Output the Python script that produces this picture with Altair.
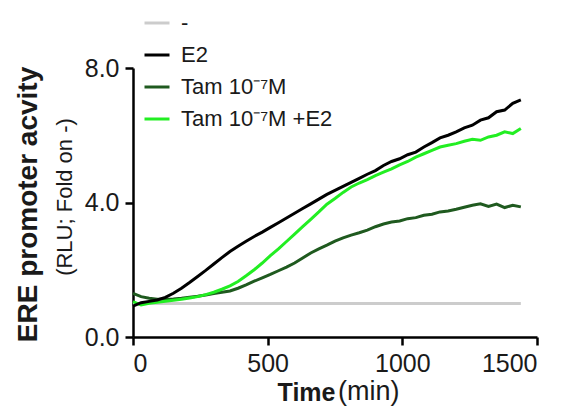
import altair as alt
import pandas as pd

# ---- data ----
time_min = list(range(0, 1441, 30))

e2 = [0.92, 1.02, 1.06, 1.10, 1.18, 1.30, 1.45, 1.62, 1.80, 1.98,
      2.17, 2.36, 2.54, 2.70, 2.85, 2.99, 3.12, 3.26, 3.40, 3.54,
      3.68, 3.82, 3.96, 4.10, 4.24, 4.36, 4.48, 4.60, 4.72, 4.84,
      4.95, 5.10, 5.22, 5.30, 5.42, 5.50, 5.65, 5.78, 5.92, 6.00,
      6.10, 6.22, 6.30, 6.45, 6.52, 6.70, 6.75, 6.95, 7.05]

tam = [1.30, 1.20, 1.15, 1.12, 1.12, 1.13, 1.15, 1.18, 1.21, 1.25,
       1.29, 1.33, 1.37, 1.45, 1.55, 1.66, 1.76, 1.86, 1.97, 2.08,
       2.20, 2.35, 2.50, 2.62, 2.73, 2.85, 2.95, 3.03, 3.10, 3.18,
       3.28, 3.36, 3.42, 3.45, 3.52, 3.55, 3.62, 3.65, 3.72, 3.75,
       3.80, 3.86, 3.92, 3.96, 3.88, 3.95, 3.85, 3.92, 3.87]

tam_e2 = [1.05, 0.95, 1.00, 1.03, 1.06, 1.09, 1.12, 1.16, 1.20, 1.26,
          1.33, 1.42, 1.52, 1.65, 1.82, 2.00, 2.20, 2.42, 2.62, 2.84,
          3.06, 3.28, 3.50, 3.72, 3.95, 4.12, 4.30, 4.46, 4.58, 4.68,
          4.80, 4.90, 5.00, 5.12, 5.22, 5.35, 5.45, 5.55, 5.65, 5.70,
          5.75, 5.82, 5.88, 5.85, 5.95, 6.00, 6.10, 6.05, 6.20]

ctrl_time = [0, 1440]
ctrl = [1.0, 1.0]

series_names = ["-", "E2", "Tam  10\u207b\u2077M", "Tam  10\u207b\u2077M  +E2"]
series_colors = ["#cccccc", "#000000", "#1f5a1f", "#22ee22"]

x_ticks = [0, 500, 1000, 1500]
y_ticks = [0, 4, 8]

rows = []
for t, v in zip(ctrl_time, ctrl):
    rows.append({"time": t, "value": v, "series": series_names[0], "k": 0})
for t, v in zip(time_min, tam):
    rows.append({"time": t, "value": v, "series": series_names[2], "k": 1})
for t, v in zip(time_min, tam_e2):
    rows.append({"time": t, "value": v, "series": series_names[3], "k": 2})
for t, v in zip(time_min, e2):
    rows.append({"time": t, "value": v, "series": series_names[1], "k": 3})
df = pd.DataFrame(rows)

FONT = "Liberation Sans"

lines = alt.Chart(df).mark_line(strokeWidth=3, interpolate="linear").encode(
    x=alt.X("time:Q",
            scale=alt.Scale(domain=[0, 1500], nice=False, zero=False),
            axis=alt.Axis(values=x_ticks, format="d", title="Time",
                          titleFont=FONT, titleFontSize=25, titleFontWeight="bold",
                          titleColor="#1a1a1a", titleX=202, titleY=63,
                          titleAlign="right", titleBaseline="alphabetic",
                          titleAngle=0)),
    y=alt.Y("value:Q",
            scale=alt.Scale(domain=[0, 8], nice=False, zero=True),
            axis=alt.Axis(values=y_ticks, format=".1f",
                          title="ERE  promoter  acvity",
                          titleFont=FONT, titleFontSize=28, titleFontWeight="bold",
                          titleColor="#1a1a1a", titleX=-105, titleY=136,
                          titleAlign="center", titleBaseline="middle",
                          titleAngle=270)),
    color=alt.Color("series:N",
                    scale=alt.Scale(domain=series_names, range=series_colors),
                    legend=alt.Legend(title=None, orient="none",
                                      legendX=10, legendY=-59,
                                      symbolType="stroke", symbolSize=625,
                                      symbolStrokeWidth=3, labelOffset=10,
                                      labelFont=FONT, labelFontSize=22,
                                      labelColor="#1a1a1a", rowPadding=7,
                                      padding=0, labelLimit=400)),
    detail="series:N",
    order=alt.Order("k:Q"),
)

sub_y = alt.Chart(pd.DataFrame({"t": ["(RLU;  Fold on -)"]})).mark_text(
    angle=270, align="center", baseline="middle", font=FONT, fontSize=22,
    color="#1a1a1a"
).encode(x=alt.value(-68), y=alt.value(129), text="t:N")

sub_x = alt.Chart(pd.DataFrame({"t": ["(min)"]})).mark_text(
    align="left", baseline="alphabetic", font=FONT, fontSize=27,
    color="#1a1a1a"
).encode(x=alt.value(205), y=alt.value(332), text="t:N")

chart = alt.layer(lines, sub_y, sub_x).properties(
    width=404, height=269,
    autosize=alt.AutoSizeParams(type="none"),
    padding={"left": 125, "top": 60, "right": 20, "bottom": 70},
).configure_view(stroke=None).configure_axis(
    grid=False, domainColor="#000000", domainWidth=2.5,
    tickColor="#000000", tickWidth=2.5, tickSize=8,
    labelFont=FONT, labelFontSize=25, labelColor="#1a1a1a",
    labelPadding=6,
)

chart.save("out.html", embed_options={"renderer": "svg", "actions": False})
